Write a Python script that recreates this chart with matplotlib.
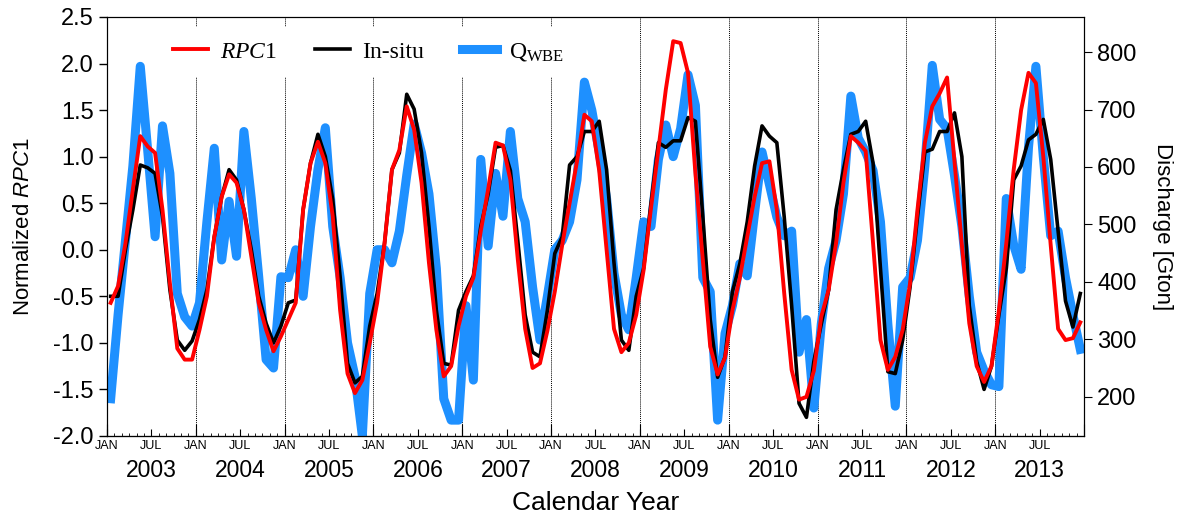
import numpy as np
import matplotlib
matplotlib.use('Agg')
import matplotlib.pyplot as plt

plt.rcParams['font.family'] = ['Liberation Sans', 'DejaVu Sans']
plt.rcParams['mathtext.fontset'] = 'custom'
plt.rcParams['mathtext.rm'] = 'Liberation Serif'
plt.rcParams['mathtext.it'] = 'Liberation Serif:italic'
plt.rcParams['mathtext.cal'] = 'Liberation Sans:italic'

years = list(range(2003, 2014))
months = np.arange(len(years) * 12) + 0.5   # mid-month, months since Jan 2003

rpc1 = [
    -0.57, -0.39, 0.07, 0.65, 1.22, 1.11, 1.04, 0.43, -0.36, -1.06, -1.18, -1.18,
    -0.86, -0.50, 0.14, 0.57, 0.81, 0.72, 0.43, -0.07, -0.57, -0.86, -1.09, -0.93,
    -0.75, -0.57, 0.43, 0.93, 1.16, 0.93, 0.36, -0.65, -1.33, -1.54, -1.40, -1.00,
    -0.57, 0.07, 0.86, 1.07, 1.54, 1.29, 0.72, -0.14, -0.86, -1.36, -1.25, -0.82,
    -0.50, -0.30, 0.20, 0.65, 1.15, 1.12, 0.75, -0.10, -0.85, -1.27, -1.22, -0.87,
    -0.45, 0.05, 0.50, 0.95, 1.45, 1.38, 0.85, 0.00, -0.85, -1.10, -1.00, -0.70,
    -0.22, 0.45, 1.08, 1.72, 2.24, 2.22, 1.90, 0.82, -0.11, -1.04, -1.34, -1.16,
    -0.65, -0.30, 0.14, 0.57, 0.93, 0.95, 0.43, -0.47, -1.29, -1.61, -1.58, -1.30,
    -0.72, -0.43, 0.07, 0.72, 1.22, 1.15, 1.06, 0.07, -0.97, -1.29, -1.15, -0.86,
    -0.36, 0.43, 1.15, 1.54, 1.68, 1.85, 0.95, 0.05, -0.79, -1.25, -1.42, -1.25,
    -0.65, 0.07, 0.86, 1.50, 1.90, 1.79, 1.00, 0.05, -0.85, -0.97, -0.95, -0.78,
]

in_situ = [
    -0.50, -0.50, 0.00, 0.43, 0.91, 0.88, 0.82, 0.36, -0.43, -0.97, -1.08, -0.98,
    -0.75, -0.43, 0.14, 0.57, 0.86, 0.75, 0.43, 0.00, -0.50, -0.79, -1.00, -0.82,
    -0.57, -0.54, 0.43, 0.93, 1.24, 1.00, 0.54, -0.29, -1.22, -1.43, -1.36, -0.82,
    -0.47, 0.07, 0.86, 1.04, 1.67, 1.51, 1.04, 0.25, -0.65, -1.22, -1.24, -0.65,
    -0.45, -0.28, 0.25, 0.60, 1.10, 1.12, 0.85, 0.10, -0.70, -1.10, -1.15, -0.65,
    -0.04, 0.14, 0.91, 1.00, 1.27, 1.27, 1.38, 0.86, -0.14, -0.97, -1.08, -0.50,
    -0.20, 0.50, 1.15, 1.10, 1.17, 1.17, 1.42, 1.38, 0.36, -0.75, -1.37, -1.15,
    -0.45, -0.15, 0.30, 0.90, 1.33, 1.22, 1.15, 0.35, -0.60, -1.65, -1.80, -1.20,
    -0.80, -0.43, 0.43, 0.86, 1.24, 1.27, 1.38, 0.93, -0.20, -1.31, -1.33, -0.97,
    -0.40, 0.35, 1.05, 1.08, 1.27, 1.27, 1.47, 1.00, -0.60, -1.20, -1.50, -1.25,
    -0.70, -0.20, 0.75, 0.90, 1.18, 1.24, 1.40, 0.97, 0.20, -0.55, -0.83, -0.47,
]

q_wbe = [
    -1.60, -0.70, 0.10, 0.90, 1.97, 1.07, 0.14, 1.33, 0.82, -0.47, -0.72, -0.82,
    -0.57, 0.30, 1.09, -0.11, 0.52, -0.07, 1.27, 0.55, -0.29, -1.18, -1.27, -0.29,
    -0.30, 0.00, -0.50, 0.25, 0.86, 1.31, 0.25, -0.30, -1.00, -1.36, -2.00, -0.47,
    0.00, 0.00, -0.14, 0.20, 0.80, 1.35, 1.04, 0.60, -0.20, -1.60, -1.83, -1.83,
    -0.60, -1.40, 0.97, 0.04, 0.82, 0.36, 1.27, 0.55, 0.30, -0.40, -0.97, -0.50,
    0.00, 0.10, 0.30, 0.75, 1.80, 1.50, 1.05, 0.55, -0.25, -0.70, -0.86, -0.30,
    0.30, 0.25, 0.97, 1.34, 1.00, 1.30, 1.88, 1.55, -0.30, -0.45, -1.83, -0.90,
    -0.60, -0.15, -0.28, 0.40, 1.05, 0.70, 0.35, 0.15, 0.20, -1.10, -0.75, -1.70,
    -0.80, -0.20, 0.10, 0.60, 1.65, 1.20, 1.05, 0.85, 0.30, -0.80, -1.68, -0.40,
    -0.30, 0.10, 0.90, 1.98, 1.40, 1.30, 0.80, 0.25, -0.50, -1.10, -1.30, -1.45,
    -1.47, 0.55, 0.05, -0.21, 1.10, 1.97, 1.00, 0.15, 0.20, -0.30, -0.70, -1.07,
]

left_ticks = [-2.0, -1.5, -1.0, -0.5, 0.0, 0.5, 1.0, 1.5, 2.0, 2.5]
right_ticks = [200, 300, 400, 500, 600, 700, 800]
month_labels = ['JAN', 'JUL']

fig = plt.figure(figsize=(11.82, 5.19), dpi=100)
ax = fig.add_axes([0.0905, 0.16, 0.8266, 0.8073])

for k in range(1, len(years)):
    ax.axvline(12 * k, color='k', lw=0.7, ls=(0, (1, 1)), zorder=1)

ax.plot(months, q_wbe, color='#1E90FF', lw=6.5, solid_joinstyle='round', label=r'Q$_{\mathrm{WBE}}$', zorder=2)
ax.plot(months, in_situ, color='black', lw=2.6, label='In-situ', zorder=3)
ax.plot(months, rpc1, color='#FF0000', lw=2.8, label=r'$\mathit{RPC}$1', zorder=4)

ax.set_xlim(0, 12 * len(years))
ax.set_ylim(-2.0, 2.5)
ax.set_yticks(left_ticks)
ax.set_yticklabels(['%.1f' % t for t in left_ticks])
ax.tick_params(axis='y', direction='out', length=6, labelsize=17, width=1)
ax.set_ylabel(r'Normalized $\mathcal{RPC}$1', fontsize=16, labelpad=14)

xt = list(range(0, 12 * len(years), 6))
ax.set_xticks(xt)
ax.set_xticklabels([month_labels[(t // 6) % 2] for t in xt])
ax.set_xticks(np.arange(0, 12 * len(years) + 1), minor=True)
ax.tick_params(axis='x', which='major', direction='in', length=5, labelsize=9, pad=3)
ax.tick_params(axis='x', which='minor', direction='in', length=2.5)

sec = ax.secondary_xaxis('bottom')
sec.set_xticks(range(0, 12 * len(years) + 1, 12))
sec.set_xticklabels([])
sec.tick_params(direction='in', length=9)

for i, y in enumerate(years):
    ax.text(12 * i + 6, -0.083, str(y), transform=ax.get_xaxis_transform(),
            ha='center', va='center', fontsize=16.5)
ax.text(0.5, -0.16, 'Calendar Year', transform=ax.transAxes,
        ha='center', va='center', fontsize=19)

ax2 = ax.twinx()
ax2.set_ylim(132, 861)
ax2.set_yticks(right_ticks)
ax2.tick_params(axis='y', direction='out', length=6, labelsize=17)
ax2.set_ylabel('Discharge [Gton]', fontsize=16, rotation=270, labelpad=26)

h, l = ax.get_legend_handles_labels()
order = [2, 1, 0]
leg = ax2.legend([h[i] for i in order], [l[i] for i in order], loc='center left',
                 bbox_to_anchor=(0.053, 0.916), ncol=3, frameon=True,
                 prop={'family': 'Liberation Serif', 'size': 17},
                 handlelength=1.5, handletextpad=0.5, columnspacing=1.6,
                 borderpad=0.6, borderaxespad=0)
leg.get_frame().set_edgecolor('none')
leg.get_frame().set_facecolor('white')
leg.get_frame().set_alpha(1)

fig.savefig('out.png', dpi=100)
